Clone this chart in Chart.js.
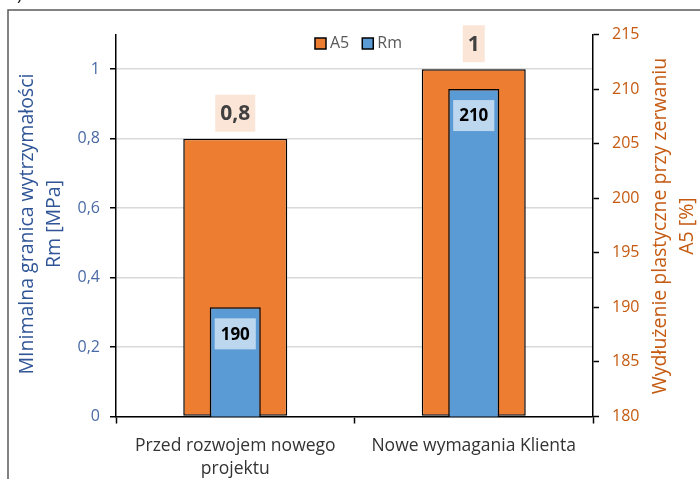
<!DOCTYPE html>
<html>
<head>
<meta charset="utf-8">
<script src="https://cdn.jsdelivr.net/npm/chart.js@4/dist/chart.umd.min.js"></script>
<style>
  html, body { margin: 0; padding: 0; background: #fff; }
  #wrap { position: relative; width: 700px; height: 479px; }
</style>
</head>
<body>
<div id="wrap"><canvas id="c" width="700" height="479"></canvas></div>
<script>
// Categories and series
const categories = [["Przed rozwojem nowego", "projektu"], "Nowe wymagania Klienta"];
const seriesA5 = [0.8, 1];
const seriesRm = [190, 210];
const seriesNames = ["A5", "Rm"];

const leftTitle = ["MInimalna granica wytrzymałości", "Rm [MPa]"];
const rightTitle = ["Wydłużenie plastyczne przy zerwaniu", "A5 [%]"];

const FONT = "'Open Sans', 'Noto Sans', sans-serif";
const ORANGE = "#ED7D31";
const BLUE = "#5B9BD5";

function fmt(v) {
  const r = Math.round(v * 10) / 10;
  return String(r).replace(".", ",");
}

// Frame, rotated axis titles, legend and value labels
const decorations = {
  id: "decorations",
  beforeDraw(chart) {
    const ctx = chart.ctx;
    ctx.save();
    ctx.fillStyle = "#fff";
    ctx.fillRect(0, 0, chart.width, chart.height);
    ctx.strokeStyle = "#5a5a5a";
    ctx.lineWidth = 1.5;
    ctx.beginPath();
    ctx.moveTo(8, chart.height);
    ctx.lineTo(8, 10);
    ctx.lineTo(chart.width, 10);
    ctx.stroke();
    ctx.fillStyle = "#222";
    ctx.font = "18px " + FONT;
    ctx.textAlign = "left";
    ctx.textBaseline = "alphabetic";
    ctx.fillText(")", 17, 0);
    ctx.restore();
  },
  afterDraw(chart) {
    const ctx = chart.ctx;

    // axis titles, both reading bottom-to-top
    ctx.save();
    ctx.font = "19.5px " + FONT;
    ctx.textAlign = "center";
    ctx.textBaseline = "middle";
    ctx.fillStyle = "#2F5597";
    [27, 54].forEach((x, i) => {
      ctx.save();
      ctx.translate(x, 224);
      ctx.rotate(-Math.PI / 2);
      ctx.fillText(leftTitle[i], 0, 0);
      ctx.restore();
    });
    ctx.fillStyle = "#C55A11";
    [660, 687].forEach((x, i) => {
      ctx.save();
      ctx.translate(x, 226);
      ctx.rotate(-Math.PI / 2);
      ctx.fillText(rightTitle[i], 0, 0);
      ctx.restore();
    });
    ctx.restore();

    // legend
    ctx.save();
    ctx.font = "16px " + FONT;
    ctx.textBaseline = "middle";
    ctx.textAlign = "left";
    const colors = [ORANGE, BLUE];
    const ly = 43.5;
    let lx = 315;
    seriesNames.forEach((name, i) => {
      ctx.fillStyle = colors[i];
      ctx.fillRect(lx, ly - 5.5, 11, 11);
      ctx.strokeStyle = "#000";
      ctx.lineWidth = 1.5;
      ctx.strokeRect(lx, ly - 5.5, 11, 11);
      ctx.fillStyle = "#595959";
      ctx.fillText(name, lx + 15, ly);
      lx += 15 + ctx.measureText(name).width + 13;
    });
    ctx.restore();

    // value labels
    ctx.save();
    ctx.textAlign = "center";
    ctx.textBaseline = "middle";
    const metaA5 = chart.getDatasetMeta(0);
    ctx.font = "bold 21px " + FONT;
    metaA5.data.forEach((bar, i) => {
      const txt = fmt(seriesA5[i]);
      const w = ctx.measureText(txt).width + 10;
      const h = 37;
      const bottom = bar.y - 7;
      ctx.fillStyle = "#FBE5D6";
      ctx.fillRect(bar.x - w / 2, bottom - h, w, h);
      ctx.fillStyle = "#404040";
      ctx.fillText(txt, bar.x, bottom - h / 2 + 1);
    });
    const metaRm = chart.getDatasetMeta(1);
    ctx.font = "bold 17px " + FONT;
    metaRm.data.forEach((bar, i) => {
      const txt = fmt(seriesRm[i]);
      const w = ctx.measureText(txt).width + 12;
      const h = 31;
      const top = bar.y + 11;
      ctx.fillStyle = "#BDD7EE";
      ctx.fillRect(bar.x - w / 2, top, w, h);
      ctx.fillStyle = "#000";
      ctx.fillText(txt, bar.x, top + h / 2 + 1);
    });
    ctx.restore();
  }
};

new Chart(document.getElementById("c"), {
  type: "bar",
  data: {
    labels: categories,
    datasets: [
      {
        label: seriesNames[0],
        data: seriesA5,
        yAxisID: "yLeft",
        backgroundColor: ORANGE,
        borderColor: "#000",
        borderWidth: 1.5,
        borderSkipped: false,
        grouped: false,
        categoryPercentage: 1,
        barPercentage: 0.436,
        order: 1
      },
      {
        label: seriesNames[1],
        data: seriesRm,
        yAxisID: "yRight",
        backgroundColor: BLUE,
        borderColor: "#000",
        borderWidth: 1.5,
        borderSkipped: false,
        grouped: false,
        categoryPercentage: 1,
        barPercentage: 0.214,
        order: 0
      }
    ]
  },
  options: {
    responsive: false,
    animation: false,
    layout: { padding: { left: 0, right: 0, top: 34.5, bottom: 0 } },
    plugins: {
      legend: { display: false },
      tooltip: { enabled: false },
      title: { display: false }
    },
    scales: {
      x: {
        type: "category",
        offset: true,
        grid: {
          offset: true,
          drawOnChartArea: false,
          drawTicks: true,
          tickLength: 7,
          tickColor: "#000",
          tickWidth: 1.5
        },
        border: { color: "#000", width: 1.5 },
        ticks: {
          color: "#333",
          font: { family: FONT, size: 17.5, lineHeight: 1.32 },
          padding: 11,
          maxRotation: 0,
          autoSkip: false
        },
        afterFit(scale) { scale.height = 62.5; }
      },
      yLeft: {
        type: "linear",
        position: "left",
        min: 0,
        max: 1.1,
        ticks: {
          stepSize: 0.2,
          color: "#4A6AA5",
          font: { family: FONT, size: 16 },
          padding: 10,
          callback: (v) => fmt(v)
        },
        afterBuildTicks(scale) {
          scale.ticks = scale.ticks.filter(t => t.value <= 1.0001);
        },
        grid: {
          color: "#D9D9D9",
          lineWidth: 1.5,
          tickLength: 6,
          tickColor: "#000",
          tickWidth: 1.5
        },
        border: { color: "#000", width: 1.5 },
        afterFit(scale) { scale.width = 116; }
      },
      yRight: {
        type: "linear",
        position: "right",
        min: 180,
        max: 215,
        ticks: {
          stepSize: 5,
          color: "#C55A11",
          font: { family: FONT, size: 16 },
          padding: 13,
          callback: (v) => String(v)
        },
        grid: {
          drawOnChartArea: false,
          tickLength: 6,
          tickColor: "#000",
          tickWidth: 1.5
        },
        border: { color: "#000", width: 1.5 },
        afterFit(scale) { scale.width = 107; }
      }
    }
  },
  plugins: [decorations]
});
</script>
</body>
</html>
